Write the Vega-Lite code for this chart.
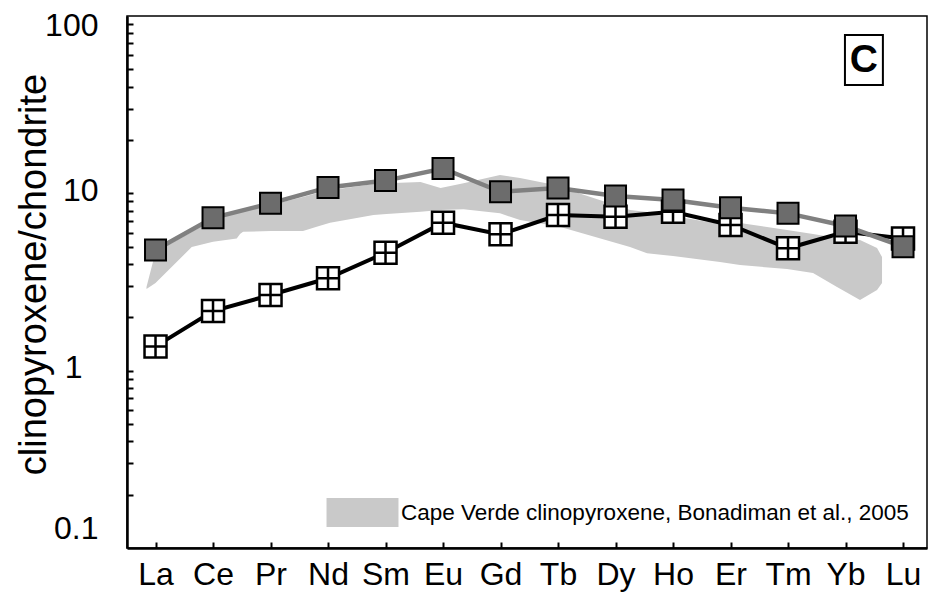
{
  "$schema": "https://vega.github.io/schema/vega-lite/v6.json",
  "width": 800,
  "height": 532,
  "autosize": "none",
  "padding": {"left": 127, "top": 16, "right": 2, "bottom": 47},
  "background": "white",
  "config": {
    "font": "Liberation Sans",
    "view": {"stroke": "#000", "strokeWidth": 1.5},
    "axis": {
      "grid": false,
      "domainColor": "#000",
      "domainWidth": 2.5,
      "tickColor": "#000",
      "tickWidth": 2,
      "labelColor": "#000",
      "titleColor": "#000",
      "labelFont": "Liberation Sans",
      "titleFont": "Liberation Sans"
    }
  },
  "resolve": {"axis": {"x": "independent", "y": "independent"}},
  "datasets": {
    "ree": [
      {"element": "La", "idx": 0, "grey": 4.79, "black": 1.37},
      {"element": "Ce", "idx": 1, "grey": 7.28, "black": 2.17},
      {"element": "Pr", "idx": 2, "grey": 8.78, "black": 2.67},
      {"element": "Nd", "idx": 3, "grey": 10.8, "black": 3.32},
      {"element": "Sm", "idx": 4, "grey": 11.8, "black": 4.62},
      {"element": "Eu", "idx": 5, "grey": 13.8, "black": 6.83},
      {"element": "Gd", "idx": 6, "grey": 10.2, "black": 5.87},
      {"element": "Tb", "idx": 7, "grey": 10.7, "black": 7.54},
      {"element": "Dy", "idx": 8, "grey": 9.66, "black": 7.38},
      {"element": "Ho", "idx": 9, "grey": 9.17, "black": 7.88},
      {"element": "Er", "idx": 10, "grey": 8.29, "black": 6.63},
      {"element": "Tm", "idx": 11, "grey": 7.71, "black": 4.9},
      {"element": "Yb", "idx": 12, "grey": 6.54, "black": 6.07},
      {"element": "Lu", "idx": 13, "grey": 5.0, "black": 5.57}
    ],
    "field": [
      {"idx": -0.157, "upper": 2.96, "lower": 2.89, "source": "Cape Verde clinopyroxene, Bonadiman et al., 2005"},
      {"idx": 0.0, "upper": 4.67, "lower": 3.12, "source": "Cape Verde clinopyroxene, Bonadiman et al., 2005"},
      {"idx": 0.63, "upper": 6.05, "lower": 4.98, "source": "Cape Verde clinopyroxene, Bonadiman et al., 2005"},
      {"idx": 1.0, "upper": 7.07, "lower": 5.33, "source": "Cape Verde clinopyroxene, Bonadiman et al., 2005"},
      {"idx": 1.412, "upper": 7.85, "lower": 5.57, "source": "Cape Verde clinopyroxene, Bonadiman et al., 2005"},
      {"idx": 1.47, "upper": 7.95, "lower": 5.89, "source": "Cape Verde clinopyroxene, Bonadiman et al., 2005"},
      {"idx": 1.522, "upper": 8.05, "lower": 6.07, "source": "Cape Verde clinopyroxene, Bonadiman et al., 2005"},
      {"idx": 2.003, "upper": 8.59, "lower": 6.13, "source": "Cape Verde clinopyroxene, Bonadiman et al., 2005"},
      {"idx": 2.565, "upper": 9.53, "lower": 6.13, "source": "Cape Verde clinopyroxene, Bonadiman et al., 2005"},
      {"idx": 2.803, "upper": 10.0, "lower": 6.48, "source": "Cape Verde clinopyroxene, Bonadiman et al., 2005"},
      {"idx": 3.035, "upper": 10.4, "lower": 6.83, "source": "Cape Verde clinopyroxene, Bonadiman et al., 2005"},
      {"idx": 3.791, "upper": 11.3, "lower": 7.54, "source": "Cape Verde clinopyroxene, Bonadiman et al., 2005"},
      {"idx": 4.017, "upper": 11.4, "lower": 7.64, "source": "Cape Verde clinopyroxene, Bonadiman et al., 2005"},
      {"idx": 4.609, "upper": 11.6, "lower": 7.88, "source": "Cape Verde clinopyroxene, Bonadiman et al., 2005"},
      {"idx": 4.957, "upper": 10.7, "lower": 8.05, "source": "Cape Verde clinopyroxene, Bonadiman et al., 2005"},
      {"idx": 5.357, "upper": 11.4, "lower": 8.13, "source": "Cape Verde clinopyroxene, Bonadiman et al., 2005"},
      {"idx": 5.991, "upper": 12.7, "lower": 7.71, "source": "Cape Verde clinopyroxene, Bonadiman et al., 2005"},
      {"idx": 6.339, "upper": 12.2, "lower": 7.07, "source": "Cape Verde clinopyroxene, Bonadiman et al., 2005"},
      {"idx": 6.861, "upper": 11.3, "lower": 6.63, "source": "Cape Verde clinopyroxene, Bonadiman et al., 2005"},
      {"idx": 6.983, "upper": 11.0, "lower": 6.54, "source": "Cape Verde clinopyroxene, Bonadiman et al., 2005"},
      {"idx": 8.252, "upper": 8.05, "lower": 4.98, "source": "Cape Verde clinopyroxene, Bonadiman et al., 2005"},
      {"idx": 8.548, "upper": 7.85, "lower": 4.59, "source": "Cape Verde clinopyroxene, Bonadiman et al., 2005"},
      {"idx": 9.0, "upper": 7.45, "lower": 4.43, "source": "Cape Verde clinopyroxene, Bonadiman et al., 2005"},
      {"idx": 9.817, "upper": 6.71, "lower": 4.1, "source": "Cape Verde clinopyroxene, Bonadiman et al., 2005"},
      {"idx": 10.165, "upper": 6.8, "lower": 3.94, "source": "Cape Verde clinopyroxene, Bonadiman et al., 2005"},
      {"idx": 10.983, "upper": 6.21, "lower": 3.74, "source": "Cape Verde clinopyroxene, Bonadiman et al., 2005"},
      {"idx": 11.435, "upper": 5.89, "lower": 3.55, "source": "Cape Verde clinopyroxene, Bonadiman et al., 2005"},
      {"idx": 11.852, "upper": 5.6, "lower": 2.96, "source": "Cape Verde clinopyroxene, Bonadiman et al., 2005"},
      {"idx": 12.252, "upper": 5.45, "lower": 2.5, "source": "Cape Verde clinopyroxene, Bonadiman et al., 2005"},
      {"idx": 12.548, "upper": 4.92, "lower": 2.85, "source": "Cape Verde clinopyroxene, Bonadiman et al., 2005"},
      {"idx": 12.635, "upper": 4.37, "lower": 3.12, "source": "Cape Verde clinopyroxene, Bonadiman et al., 2005"}
    ],
    "panel": [{"label": "C"}]
  },
  "layer": [
    {
      "data": {"name": "field"},
      "mark": {"type": "area", "opacity": 1},
      "encoding": {
        "x": {
          "field": "idx", "type": "quantitative",
          "scale": {"domain": [-0.496, 13.417], "nice": false, "zero": false},
          "axis": {
            "orient": "bottom",
            "title": null,
            "ticks": false,
            "tickSize": 0,
            "values": [0, 1, 2, 3, 4, 5, 6, 7, 8, 9, 10, 11, 12, 13],
            "labelExpr": "['La','Ce','Pr','Nd','Sm','Eu','Gd','Tb','Dy','Ho','Er','Tm','Yb','Lu'][datum.value]",
            "labelFontSize": 32,
            "labelPadding": 11,
            "labelOverlap": false,
            "labelFlush": false
          }
        },
        "y": {
          "field": "upper", "type": "quantitative",
          "scale": {"type": "log", "domain": [0.1, 100], "nice": false},
          "axis": {
            "orient": "left",
            "title": "clinopyroxene/chondrite",
            "titleFontSize": 38,
            "titleFontWeight": "normal",
            "titlePadding": -9,
            "titleY": 258,
            "ticks": false,
            "tickSize": 0,
            "values": [0.1, 1, 10, 100],
            "labelExpr": "datum.value == 100 ? '100' : datum.value == 10 ? '10' : datum.value == 1 ? '1' : '0.1'",
            "labelFontSize": 32,
            "labelPadding": {"condition": {"test": "datum.value == 1", "value": 45}, "value": 29},
            "labelOffset": {"condition": {"test": "datum.value == 100", "value": -6}, "value": -3},
            "labelOverlap": false,
            "labelFlush": true,
            "labelFlushOffset": 0
          }
        },
        "y2": {"field": "lower"},
        "color": {
          "field": "source", "type": "nominal",
          "scale": {"range": ["#c9c9c9"]},
          "legend": {
            "orient": "none",
            "legendX": 206,
            "legendY": 467,
            "title": null,
            "padding": 0,
            "symbolType": "M-1.23,-0.5H1.23V0.5H-1.23Z",
            "symbolSize": 3422,
            "symbolStrokeWidth": 0,
            "symbolOpacity": 1,
            "symbolFillColor": "#c9c9c9",
            "labelFontSize": 22.5,
            "labelColor": "#000",
            "labelOffset": 9,
            "labelLimit": 0
          }
        }
      }
    },
    {
      "data": {"name": "ree"},
      "mark": {"type": "line", "color": "#000", "strokeWidth": 4},
      "encoding": {
        "x": {
          "field": "idx", "type": "quantitative",
          "axis": {
            "orient": "bottom", "offset": -6, "domain": false, "labels": false, "title": null,
            "ticks": true, "tickSize": 6, "tickWidth": 2, "zindex": 1,
            "values": [0, 1, 2, 3, 4, 5, 6, 7, 8, 9, 10, 11, 12, 13]
          }
        },
        "y": {
          "field": "black", "type": "quantitative",
          "axis": {
            "orient": "left", "offset": -6, "domain": false, "labels": false, "title": null,
            "ticks": true, "tickSize": 6, "tickWidth": 2, "zindex": 1,
            "values": [0.2, 0.3, 0.4, 0.5, 0.6, 0.7, 0.8, 0.9, 1, 2, 3, 4, 5, 6, 7, 8, 9, 10, 20, 30, 40, 50, 60, 70, 80, 90]
          }
        }
      }
    },
    {
      "data": {"name": "ree"},
      "mark": {"type": "line", "color": "#808080", "strokeWidth": 4.5},
      "encoding": {
        "x": {"field": "idx", "type": "quantitative", "axis": null},
        "y": {"field": "grey", "type": "quantitative", "axis": null}
      }
    },
    {
      "data": {"name": "ree"},
      "mark": {
        "type": "point",
        "shape": "M-1,-1H1V1H-1Z M0,-1V1 M-1,0H1",
        "size": 484,
        "filled": false,
        "fill": "#fff",
        "fillOpacity": 1,
        "stroke": "#000",
        "strokeWidth": 2.5,
        "opacity": 1
      },
      "encoding": {
        "x": {"field": "idx", "type": "quantitative", "axis": null},
        "y": {"field": "black", "type": "quantitative", "axis": null}
      }
    },
    {
      "data": {"name": "ree"},
      "mark": {
        "type": "point",
        "shape": "square",
        "size": 441,
        "filled": true,
        "fill": "#6c6c6c",
        "fillOpacity": 1,
        "stroke": "#000",
        "strokeWidth": 2,
        "opacity": 1
      },
      "encoding": {
        "x": {"field": "idx", "type": "quantitative", "axis": null},
        "y": {"field": "grey", "type": "quantitative", "axis": null}
      }
    },
    {
      "data": {"name": "panel"},
      "mark": {"type": "rect", "fill": "#fff", "stroke": "#000", "strokeWidth": 2},
      "encoding": {
        "x": {"datum": 11.99, "type": "quantitative", "axis": null},
        "x2": {"datum": 12.65},
        "y": {"datum": 78.1, "type": "quantitative", "axis": null},
        "y2": {"datum": 40.8}
      }
    },
    {
      "data": {"name": "panel"},
      "mark": {"type": "text", "fontSize": 39, "fontWeight": "bold", "align": "center", "baseline": "middle", "color": "#000"},
      "encoding": {
        "x": {"datum": 12.32, "type": "quantitative", "axis": null},
        "y": {"datum": 56.5, "type": "quantitative", "axis": null},
        "text": {"field": "label"}
      }
    }
  ]
}
